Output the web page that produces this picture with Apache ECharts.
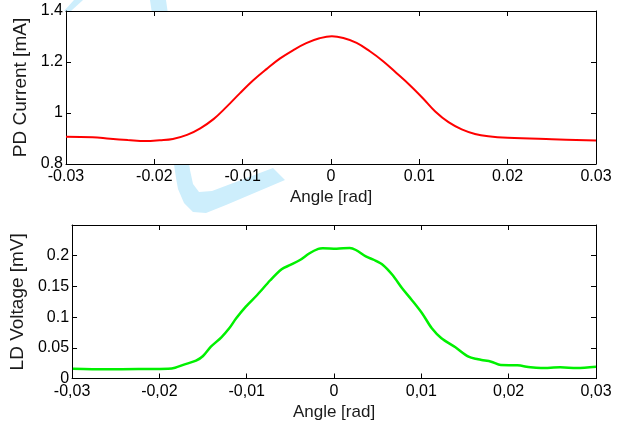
<!DOCTYPE html>
<html>
<head>
<meta charset="utf-8">
<script src="https://cdn.jsdelivr.net/npm/echarts@6/dist/echarts.min.js"></script>
<style>
html,body{margin:0;padding:0;background:#fff;}
#chart{width:629px;height:426px;}
</style>
</head>
<body>
<div id="chart"></div>
<script>
// ---- data ----
const xTicks = [-0.03, -0.02, -0.01, 0, 0.01, 0.02, 0.03];
const pdAngle = [-0.030, -0.027, -0.025, -0.023, -0.021, -0.0194, -0.0179, -0.0163, -0.0148, -0.0133, -0.0118, -0.0103, -0.0088, -0.0073, -0.0058, -0.0043, -0.0028, -0.0013, 0.0001, 0.0014, 0.0029, 0.0044, 0.0059, 0.0074, 0.0089, 0.0104, 0.0118, 0.0133, 0.0148, 0.0163, 0.0178, 0.020, 0.025, 0.030];
const pdCurrent = [0.907, 0.905, 0.899, 0.894, 0.890, 0.893, 0.898, 0.914, 0.940, 0.976, 1.025, 1.078, 1.128, 1.172, 1.213, 1.246, 1.274, 1.293, 1.301, 1.294, 1.275, 1.242, 1.203, 1.157, 1.110, 1.058, 1.006, 0.964, 0.936, 0.918, 0.909, 0.903, 0.897, 0.892];
const ldAngle = [-0.0299, -0.0262, -0.0224, -0.0190, -0.0182, -0.0171, -0.0158, -0.0150, -0.0141, -0.0129, -0.0120, -0.0112, -0.0101, -0.0088, -0.0073, -0.0060, -0.0050, -0.0039, -0.0028, -0.0018, -0.0013, 0.0003, 0.0018, 0.0025, 0.0037, 0.0046, 0.0056, 0.0067, 0.0078, 0.0089, 0.0101, 0.0112, 0.0123, 0.0139, 0.0154, 0.0165, 0.0169, 0.0180, 0.0191, 0.0210, 0.0225, 0.0237, 0.0259, 0.0278, 0.0300];
const ldVoltage = [0.016, 0.015, 0.0155, 0.016, 0.0176, 0.0231, 0.029, 0.0366, 0.0518, 0.0671, 0.0817, 0.098, 0.117, 0.136, 0.160, 0.178, 0.185, 0.193, 0.204, 0.211, 0.212, 0.2114, 0.2125, 0.2093, 0.1984, 0.193, 0.185, 0.1686, 0.147, 0.128, 0.106, 0.0817, 0.0655, 0.0508, 0.0355, 0.0313, 0.0301, 0.0274, 0.022, 0.0215, 0.0182, 0.0171, 0.0182, 0.0171, 0.0192];
const pdTicks = [0.8, 1, 1.2, 1.4];
const ldTicks = [0, 0.05, 0.1, 0.15, 0.2, 0.25];

const chart = echarts.init(document.getElementById('chart'), null, {renderer: 'canvas'});
const FONT = 'Liberation Sans, Arial, sans-serif';
const lineStyle = {color: '#000', width: 1};

function fmt(v) { return String(Math.round(v * 1000) / 1000); }

function xAxes(grid, comma) {
  const base = {
    type: 'value', gridIndex: grid, min: xTicks[0], max: xTicks[xTicks.length - 1], interval: 0.01,
    splitLine: {show: false}, axisLine: {show: true, onZero: false, lineStyle: lineStyle},
    axisTick: {show: true, inside: true, length: 5, lineStyle: lineStyle}
  };
  return [
    Object.assign({}, base, {
      position: 'bottom',
      name: 'Angle [rad]', nameLocation: 'middle', nameGap: 25,
      nameTextStyle: {fontFamily: FONT, fontSize: 17, color: '#1a1a1a'},
      axisLabel: {show: true, margin: 5, fontFamily: FONT, fontSize: 16, color: '#000',
        formatter: v => comma ? fmt(v).replace('.', ',') : fmt(v)}
    }),
    Object.assign({}, base, {position: 'top', axisLabel: {show: false}})
  ];
}

function yAxes(grid, ticks, name, gap, hideTop) {
  const base = {
    type: 'value', gridIndex: grid, min: ticks[0], max: ticks[ticks.length - 1],
    interval: Math.round((ticks[1] - ticks[0]) * 1000) / 1000,
    splitLine: {show: false}, axisLine: {show: true, onZero: false, lineStyle: lineStyle},
    axisTick: {show: true, inside: true, length: 5, lineStyle: lineStyle}
  };
  return [
    Object.assign({}, base, {
      position: 'left', name: name, nameLocation: 'middle', nameGap: gap,
      nameTextStyle: {fontFamily: FONT, fontSize: 19, color: '#1a1a1a'},
      axisLabel: {show: true, margin: 3, fontFamily: FONT, fontSize: 16, color: '#000',
        formatter: v => (hideTop && Math.abs(v - ticks[ticks.length - 1]) < 1e-9) ? '' : fmt(v)}
    }),
    Object.assign({}, base, {position: 'right', axisLabel: {show: false}})
  ];
}

const wm = '#cdeefc';
chart.setOption({
  animation: false,
  backgroundColor: '#fff',
  graphic: [
    {type: 'polygon', z: -10, silent: true, shape: {points: [[150,0],[166,0],[190,170],[193,184],[199,192],[212,191],[273,168],[285,180],[226,205],[206,213],[193,212],[184,203],[178,189],[176,178]]}, style: {fill: wm}},
    {type: 'polygon', z: -10, silent: true, shape: {points: [[74,0],[83,0],[71,11],[64,11]]}, style: {fill: wm}}
  ],
  grid: [
    {left: 66, top: 11, width: 530, height: 153, show: true, backgroundColor: '#fff', borderWidth: 0, containLabel: false},
    {left: 66, top: 225, width: 530, height: 153.5, show: true, backgroundColor: '#fff', borderWidth: 0, containLabel: false}
  ],
  xAxis: xAxes(0, false).concat(xAxes(1, true)),
  yAxis: yAxes(0, pdTicks, 'PD Current [mA]', 26, false).concat(yAxes(1, ldTicks, 'LD Voltage [mV]', 34, true)),
  series: [
    {type: 'line', xAxisIndex: 0, yAxisIndex: 0, data: pdAngle.map((a, i) => [a, pdCurrent[i]]),
      showSymbol: false, smooth: 0.4, lineStyle: {color: '#ff0000', width: 2}, z: 5},
    {type: 'line', xAxisIndex: 2, yAxisIndex: 2, data: ldAngle.map((a, i) => [a, ldVoltage[i]]),
      showSymbol: false, smooth: 0.3, lineStyle: {color: '#00f000', width: 2.5}, z: 5}
  ]
});
</script>
</body>
</html>
